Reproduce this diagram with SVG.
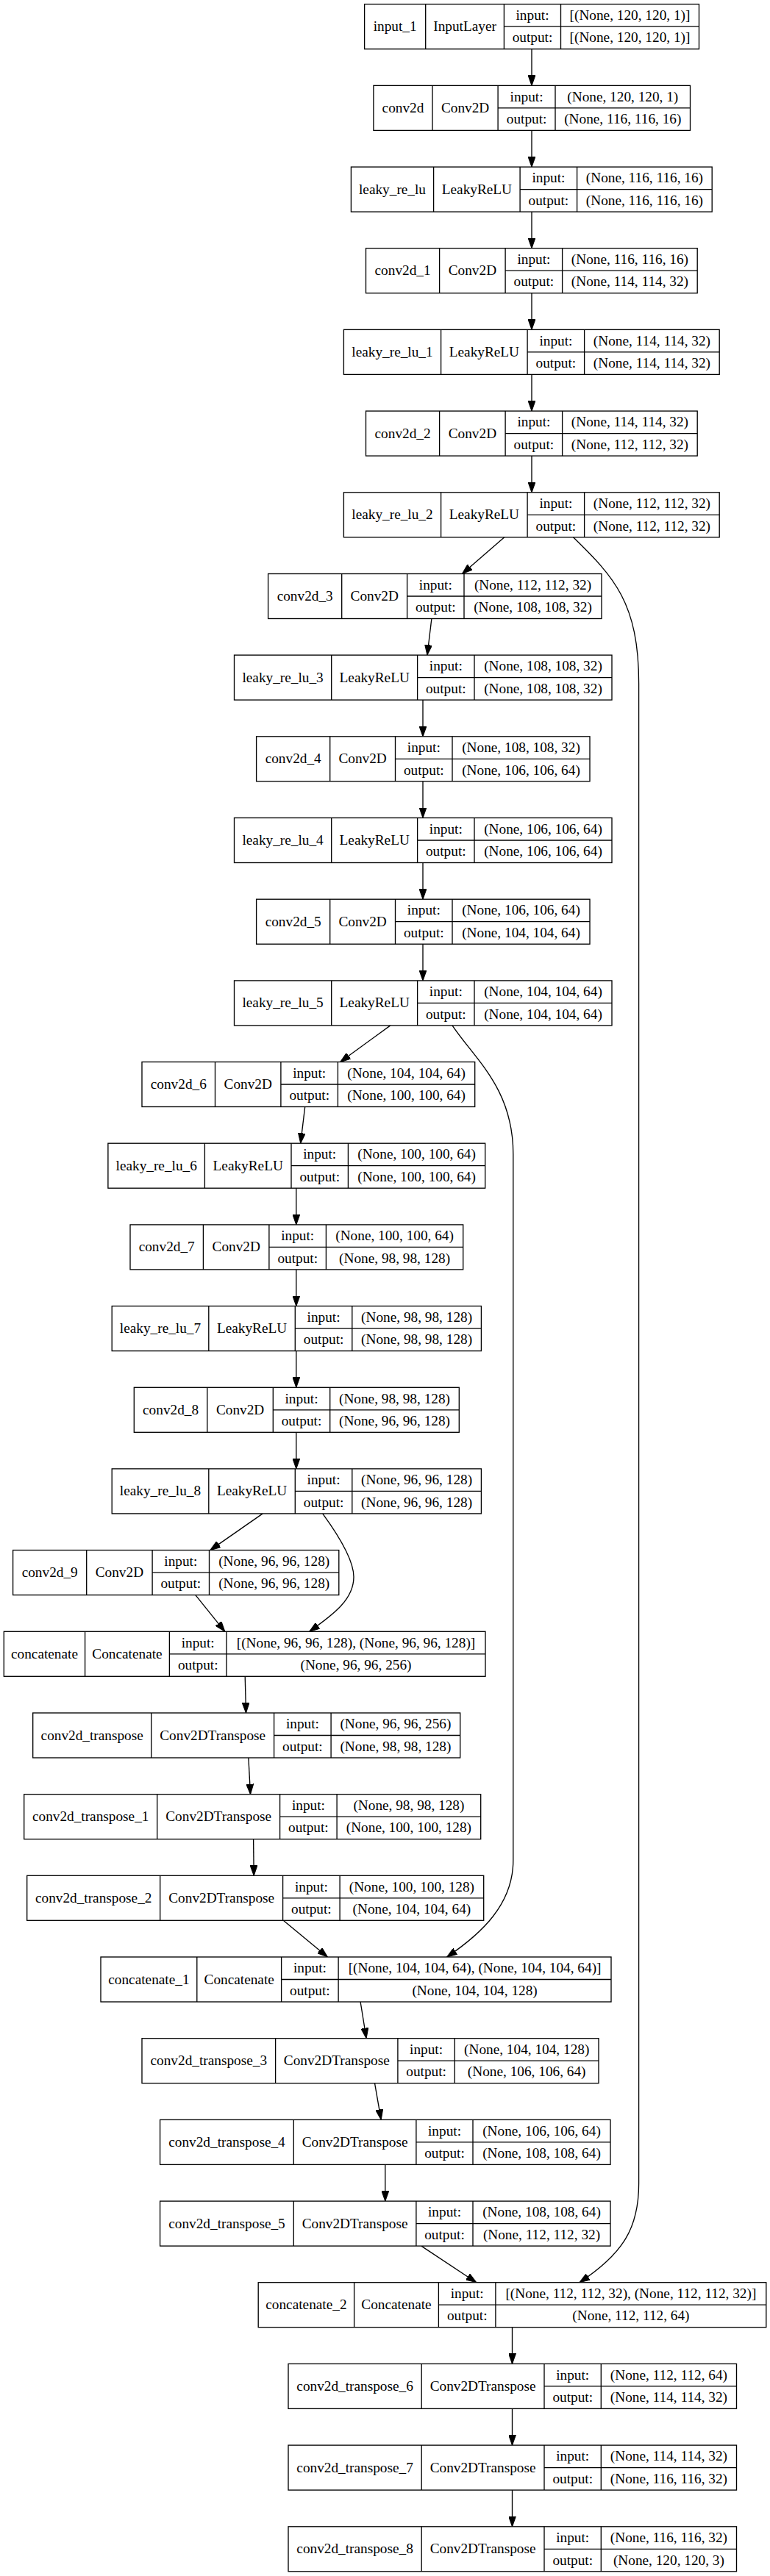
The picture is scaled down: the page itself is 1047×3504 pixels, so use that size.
<svg xmlns="http://www.w3.org/2000/svg" width="1047" height="3504" viewBox="0 0 1047 3504">
<style>
.bg{fill:#fff}
.n rect{fill:#fff;stroke:#000;stroke-width:1.33}
.n line{stroke:#000;stroke-width:1.33}
.n text{font-family:"Liberation Serif","Times New Roman",serif;font-size:19.3px;text-anchor:middle;fill:#000}
.e path{fill:none;stroke:#000;stroke-width:1.33;marker-end:url(#ah)}
</style>
<defs>
<marker id="ah" markerUnits="userSpaceOnUse" markerWidth="14" markerHeight="10" refX="13.3" refY="4.67" orient="auto" viewBox="0 0 13.3 9.34"><path d="M0,0 L13.3,4.67 L0,9.34 z" fill="#000" stroke="#000" stroke-width="1"/></marker>
</defs>
<rect class="bg" x="0" y="0" width="1047" height="3504"/>

<g class="e" id="connectors">
<path d="M723,66.7 L723,116.4"/>
<path d="M723,177.4 L723,227.1"/>
<path d="M723,288.1 L723,337.7"/>
<path d="M723,398.7 L723,448.4"/>
<path d="M723,509.4 L723,559.1"/>
<path d="M723,620.1 L723,669.8"/>
<path d="M685.8,730.8 L628.5,780.5"/>
<path d="M586.9,841.5 L580.9,891.1"/>
<path d="M575,952.1 L575,1001.8"/>
<path d="M575,1062.8 L575,1112.5"/>
<path d="M575,1173.5 L575,1223.2"/>
<path d="M575,1284.2 L575,1333.9"/>
<path d="M530.8,1394.9 L462.7,1444.5"/>
<path d="M414.7,1505.5 L408.7,1555.2"/>
<path d="M402.8,1616.2 L402.8,1665.9"/>
<path d="M402.8,1726.9 L402.8,1776.6"/>
<path d="M402.8,1837.6 L402.8,1887.3"/>
<path d="M402.8,1948.3 L402.8,1997.9"/>
<path d="M357.2,2058.9 L285.8,2108.6"/>
<path d="M265.8,2169.6 L305.8,2219.3"/>
<path d="M333.2,2280.3 L334.5,2330"/>
<path d="M337.9,2391 L340.5,2440.7"/>
<path d="M344.6,2501.7 L345.2,2551.3"/>
<path d="M385.3,2612.3 L445.4,2662"/>
<path d="M490.1,2723 L498.1,2772.7"/>
<path d="M509.5,2833.7 L518.2,2883.4"/>
<path d="M523.8,2944.4 L523.8,2994.1"/>
<path d="M572.9,3055.1 L647.7,3104.7"/>
<path d="M696.5,3165.7 L696.5,3215.4"/>
<path d="M696.5,3276.4 L696.5,3326.1"/>
<path d="M696.5,3387.1 L696.5,3436.8"/>
<path d="M779.5,730.8 C835,785 868.6,820 868.6,930 L868.6,2970 C868.6,3030 848,3065 788,3104.7"/>
<path d="M615,1394.9 C645,1440 697.8,1480 697.8,1570 L697.8,2530 C698,2590 655,2630 607.6,2662"/>
<path d="M438.7,2058.9 C465,2095 481,2125 481,2145 C481,2175 455,2195 420.7,2219.3"/>
</g>

<g class="n" id="input_1" transform="translate(0,5.7)">
<rect x="495.6" y="0" width="454.9" height="61"/>
<line x1="578.7" y1="0" x2="578.7" y2="61"/><line x1="685.4" y1="0" x2="685.4" y2="61"/><line x1="762.5" y1="0" x2="762.5" y2="61"/><line x1="685.4" y1="30.5" x2="950.5" y2="30.5"/>
<text x="537.2" y="36.5">input_1</text><text x="632.1" y="36.5">InputLayer</text><text x="724" y="21.3">input:</text><text x="724" y="51.8">output:</text><text x="856.5" y="21.3">[(None, 120, 120, 1)]</text><text x="856.5" y="51.8">[(None, 120, 120, 1)]</text>
</g>

<g class="n" id="conv2d" transform="translate(0,116.4)">
<rect x="507.9" y="0" width="430.6" height="61"/>
<line x1="588" y1="0" x2="588" y2="61"/><line x1="677.1" y1="0" x2="677.1" y2="61"/><line x1="755" y1="0" x2="755" y2="61"/><line x1="677.1" y1="30.5" x2="938.5" y2="30.5"/>
<text x="548" y="36.5">conv2d</text><text x="632.6" y="36.5">Conv2D</text><text x="716.1" y="21.3">input:</text><text x="716.1" y="51.8">output:</text><text x="846.8" y="21.3">(None, 120, 120, 1)</text><text x="846.8" y="51.8">(None, 116, 116, 16)</text>
</g>

<g class="n" id="leaky_re_lu" transform="translate(0,227.1)">
<rect x="477.4" y="0" width="490.8" height="61"/>
<line x1="589.6" y1="0" x2="589.6" y2="61"/><line x1="707.1" y1="0" x2="707.1" y2="61"/><line x1="784.6" y1="0" x2="784.6" y2="61"/><line x1="707.1" y1="30.5" x2="968.2" y2="30.5"/>
<text x="533.5" y="36.5">leaky_re_lu</text><text x="648.4" y="36.5">LeakyReLU</text><text x="745.9" y="21.3">input:</text><text x="745.9" y="51.8">output:</text><text x="876.4" y="21.3">(None, 116, 116, 16)</text><text x="876.4" y="51.8">(None, 116, 116, 16)</text>
</g>

<g class="n" id="conv2d_1" transform="translate(0,337.7)">
<rect x="497.5" y="0" width="450.7" height="61"/>
<line x1="597.6" y1="0" x2="597.6" y2="61"/><line x1="687.1" y1="0" x2="687.1" y2="61"/><line x1="764.6" y1="0" x2="764.6" y2="61"/><line x1="687.1" y1="30.5" x2="948.2" y2="30.5"/>
<text x="547.6" y="36.5">conv2d_1</text><text x="642.4" y="36.5">Conv2D</text><text x="725.9" y="21.3">input:</text><text x="725.9" y="51.8">output:</text><text x="856.4" y="21.3">(None, 116, 116, 16)</text><text x="856.4" y="51.8">(None, 114, 114, 32)</text>
</g>

<g class="n" id="leaky_re_lu_1" transform="translate(0,448.4)">
<rect x="467.4" y="0" width="510.8" height="61"/>
<line x1="599.6" y1="0" x2="599.6" y2="61"/><line x1="717.1" y1="0" x2="717.1" y2="61"/><line x1="794.6" y1="0" x2="794.6" y2="61"/><line x1="717.1" y1="30.5" x2="978.2" y2="30.5"/>
<text x="533.5" y="36.5">leaky_re_lu_1</text><text x="658.4" y="36.5">LeakyReLU</text><text x="755.9" y="21.3">input:</text><text x="755.9" y="51.8">output:</text><text x="886.4" y="21.3">(None, 114, 114, 32)</text><text x="886.4" y="51.8">(None, 114, 114, 32)</text>
</g>

<g class="n" id="conv2d_2" transform="translate(0,559.1)">
<rect x="497.5" y="0" width="450.7" height="61"/>
<line x1="597.6" y1="0" x2="597.6" y2="61"/><line x1="687.1" y1="0" x2="687.1" y2="61"/><line x1="764.6" y1="0" x2="764.6" y2="61"/><line x1="687.1" y1="30.5" x2="948.2" y2="30.5"/>
<text x="547.6" y="36.5">conv2d_2</text><text x="642.4" y="36.5">Conv2D</text><text x="725.9" y="21.3">input:</text><text x="725.9" y="51.8">output:</text><text x="856.4" y="21.3">(None, 114, 114, 32)</text><text x="856.4" y="51.8">(None, 112, 112, 32)</text>
</g>

<g class="n" id="leaky_re_lu_2" transform="translate(0,669.8)">
<rect x="467.4" y="0" width="510.8" height="61"/>
<line x1="599.6" y1="0" x2="599.6" y2="61"/><line x1="717.1" y1="0" x2="717.1" y2="61"/><line x1="794.6" y1="0" x2="794.6" y2="61"/><line x1="717.1" y1="30.5" x2="978.2" y2="30.5"/>
<text x="533.5" y="36.5">leaky_re_lu_2</text><text x="658.4" y="36.5">LeakyReLU</text><text x="755.9" y="21.3">input:</text><text x="755.9" y="51.8">output:</text><text x="886.4" y="21.3">(None, 112, 112, 32)</text><text x="886.4" y="51.8">(None, 112, 112, 32)</text>
</g>

<g class="n" id="conv2d_3" transform="translate(0,780.5)">
<rect x="364.6" y="0" width="453.4" height="61"/>
<line x1="464.7" y1="0" x2="464.7" y2="61"/><line x1="553.6" y1="0" x2="553.6" y2="61"/><line x1="631" y1="0" x2="631" y2="61"/><line x1="553.6" y1="30.5" x2="818" y2="30.5"/>
<text x="414.7" y="36.5">conv2d_3</text><text x="509.2" y="36.5">Conv2D</text><text x="592.3" y="21.3">input:</text><text x="592.3" y="51.8">output:</text><text x="724.5" y="21.3">(None, 112, 112, 32)</text><text x="724.5" y="51.8">(None, 108, 108, 32)</text>
</g>

<g class="n" id="leaky_re_lu_3" transform="translate(0,891.1)">
<rect x="318.5" y="0" width="513.5" height="61"/>
<line x1="450.7" y1="0" x2="450.7" y2="61"/><line x1="567.6" y1="0" x2="567.6" y2="61"/><line x1="645" y1="0" x2="645" y2="61"/><line x1="567.6" y1="30.5" x2="832" y2="30.5"/>
<text x="384.6" y="36.5">leaky_re_lu_3</text><text x="509.2" y="36.5">LeakyReLU</text><text x="606.3" y="21.3">input:</text><text x="606.3" y="51.8">output:</text><text x="738.5" y="21.3">(None, 108, 108, 32)</text><text x="738.5" y="51.8">(None, 108, 108, 32)</text>
</g>

<g class="n" id="conv2d_4" transform="translate(0,1001.8)">
<rect x="348.6" y="0" width="453.4" height="61"/>
<line x1="448.7" y1="0" x2="448.7" y2="61"/><line x1="537.5" y1="0" x2="537.5" y2="61"/><line x1="615" y1="0" x2="615" y2="61"/><line x1="537.5" y1="30.5" x2="802" y2="30.5"/>
<text x="398.7" y="36.5">conv2d_4</text><text x="493.1" y="36.5">Conv2D</text><text x="576.3" y="21.3">input:</text><text x="576.3" y="51.8">output:</text><text x="708.5" y="21.3">(None, 108, 108, 32)</text><text x="708.5" y="51.8">(None, 106, 106, 64)</text>
</g>

<g class="n" id="leaky_re_lu_4" transform="translate(0,1112.5)">
<rect x="318.5" y="0" width="513.5" height="61"/>
<line x1="450.7" y1="0" x2="450.7" y2="61"/><line x1="567.6" y1="0" x2="567.6" y2="61"/><line x1="645" y1="0" x2="645" y2="61"/><line x1="567.6" y1="30.5" x2="832" y2="30.5"/>
<text x="384.6" y="36.5">leaky_re_lu_4</text><text x="509.2" y="36.5">LeakyReLU</text><text x="606.3" y="21.3">input:</text><text x="606.3" y="51.8">output:</text><text x="738.5" y="21.3">(None, 106, 106, 64)</text><text x="738.5" y="51.8">(None, 106, 106, 64)</text>
</g>

<g class="n" id="conv2d_5" transform="translate(0,1223.2)">
<rect x="348.6" y="0" width="453.4" height="61"/>
<line x1="448.7" y1="0" x2="448.7" y2="61"/><line x1="537.5" y1="0" x2="537.5" y2="61"/><line x1="615" y1="0" x2="615" y2="61"/><line x1="537.5" y1="30.5" x2="802" y2="30.5"/>
<text x="398.7" y="36.5">conv2d_5</text><text x="493.1" y="36.5">Conv2D</text><text x="576.3" y="21.3">input:</text><text x="576.3" y="51.8">output:</text><text x="708.5" y="21.3">(None, 106, 106, 64)</text><text x="708.5" y="51.8">(None, 104, 104, 64)</text>
</g>

<g class="n" id="leaky_re_lu_5" transform="translate(0,1333.9)">
<rect x="318.5" y="0" width="513.5" height="61"/>
<line x1="450.7" y1="0" x2="450.7" y2="61"/><line x1="567.6" y1="0" x2="567.6" y2="61"/><line x1="645" y1="0" x2="645" y2="61"/><line x1="567.6" y1="30.5" x2="832" y2="30.5"/>
<text x="384.6" y="36.5">leaky_re_lu_5</text><text x="509.2" y="36.5">LeakyReLU</text><text x="606.3" y="21.3">input:</text><text x="606.3" y="51.8">output:</text><text x="738.5" y="21.3">(None, 104, 104, 64)</text><text x="738.5" y="51.8">(None, 104, 104, 64)</text>
</g>

<g class="n" id="conv2d_6" transform="translate(0,1444.5)">
<rect x="193" y="0" width="452.7" height="61"/>
<line x1="292.5" y1="0" x2="292.5" y2="61"/><line x1="381.9" y1="0" x2="381.9" y2="61"/><line x1="459.4" y1="0" x2="459.4" y2="61"/><line x1="381.9" y1="30.5" x2="645.7" y2="30.5"/>
<text x="242.8" y="36.5">conv2d_6</text><text x="337.2" y="36.5">Conv2D</text><text x="420.7" y="21.3">input:</text><text x="420.7" y="51.8">output:</text><text x="552.6" y="21.3">(None, 104, 104, 64)</text><text x="552.6" y="51.8">(None, 100, 100, 64)</text>
</g>

<g class="n" id="leaky_re_lu_6" transform="translate(0,1555.2)">
<rect x="146.9" y="0" width="512.8" height="61"/>
<line x1="278.4" y1="0" x2="278.4" y2="61"/><line x1="396" y1="0" x2="396" y2="61"/><line x1="473.4" y1="0" x2="473.4" y2="61"/><line x1="396" y1="30.5" x2="659.7" y2="30.5"/>
<text x="212.7" y="36.5">leaky_re_lu_6</text><text x="337.2" y="36.5">LeakyReLU</text><text x="434.7" y="21.3">input:</text><text x="434.7" y="51.8">output:</text><text x="566.6" y="21.3">(None, 100, 100, 64)</text><text x="566.6" y="51.8">(None, 100, 100, 64)</text>
</g>

<g class="n" id="conv2d_7" transform="translate(0,1665.9)">
<rect x="177" y="0" width="452.7" height="61"/>
<line x1="276.4" y1="0" x2="276.4" y2="61"/><line x1="365.9" y1="0" x2="365.9" y2="61"/><line x1="443.4" y1="0" x2="443.4" y2="61"/><line x1="365.9" y1="30.5" x2="629.7" y2="30.5"/>
<text x="226.7" y="36.5">conv2d_7</text><text x="321.2" y="36.5">Conv2D</text><text x="404.7" y="21.3">input:</text><text x="404.7" y="51.8">output:</text><text x="536.6" y="21.3">(None, 100, 100, 64)</text><text x="536.6" y="51.8">(None, 98, 98, 128)</text>
</g>

<g class="n" id="leaky_re_lu_7" transform="translate(0,1776.6)">
<rect x="152.2" y="0" width="502.2" height="61"/>
<line x1="283.8" y1="0" x2="283.8" y2="61"/><line x1="401.3" y1="0" x2="401.3" y2="61"/><line x1="478.8" y1="0" x2="478.8" y2="61"/><line x1="401.3" y1="30.5" x2="654.4" y2="30.5"/>
<text x="218" y="36.5">leaky_re_lu_7</text><text x="342.6" y="36.5">LeakyReLU</text><text x="440.1" y="21.3">input:</text><text x="440.1" y="51.8">output:</text><text x="566.6" y="21.3">(None, 98, 98, 128)</text><text x="566.6" y="51.8">(None, 98, 98, 128)</text>
</g>

<g class="n" id="conv2d_8" transform="translate(0,1887.3)">
<rect x="182.3" y="0" width="442" height="61"/>
<line x1="281.8" y1="0" x2="281.8" y2="61"/><line x1="371.3" y1="0" x2="371.3" y2="61"/><line x1="448.7" y1="0" x2="448.7" y2="61"/><line x1="371.3" y1="30.5" x2="624.3" y2="30.5"/>
<text x="232.1" y="36.5">conv2d_8</text><text x="326.6" y="36.5">Conv2D</text><text x="410" y="21.3">input:</text><text x="410" y="51.8">output:</text><text x="536.5" y="21.3">(None, 98, 98, 128)</text><text x="536.5" y="51.8">(None, 96, 96, 128)</text>
</g>

<g class="n" id="leaky_re_lu_8" transform="translate(0,1997.9)">
<rect x="152.2" y="0" width="502.2" height="61"/>
<line x1="283.8" y1="0" x2="283.8" y2="61"/><line x1="401.3" y1="0" x2="401.3" y2="61"/><line x1="478.8" y1="0" x2="478.8" y2="61"/><line x1="401.3" y1="30.5" x2="654.4" y2="30.5"/>
<text x="218" y="36.5">leaky_re_lu_8</text><text x="342.6" y="36.5">LeakyReLU</text><text x="440.1" y="21.3">input:</text><text x="440.1" y="51.8">output:</text><text x="566.6" y="21.3">(None, 96, 96, 128)</text><text x="566.6" y="51.8">(None, 96, 96, 128)</text>
</g>

<g class="n" id="conv2d_9" transform="translate(0,2108.6)">
<rect x="17.6" y="0" width="443.2" height="61"/>
<line x1="117.7" y1="0" x2="117.7" y2="61"/><line x1="207.1" y1="0" x2="207.1" y2="61"/><line x1="284.5" y1="0" x2="284.5" y2="61"/><line x1="207.1" y1="30.5" x2="460.8" y2="30.5"/>
<text x="67.7" y="36.5">conv2d_9</text><text x="162.4" y="36.5">Conv2D</text><text x="245.8" y="21.3">input:</text><text x="245.8" y="51.8">output:</text><text x="372.7" y="21.3">(None, 96, 96, 128)</text><text x="372.7" y="51.8">(None, 96, 96, 128)</text>
</g>

<g class="n" id="concatenate" transform="translate(0,2219.3)">
<rect x="5.3" y="0" width="654.7" height="61"/>
<line x1="115.6" y1="0" x2="115.6" y2="61"/><line x1="230.4" y1="0" x2="230.4" y2="61"/><line x1="308" y1="0" x2="308" y2="61"/><line x1="230.4" y1="30.5" x2="660" y2="30.5"/>
<text x="60.5" y="36.5">concatenate</text><text x="173" y="36.5">Concatenate</text><text x="269.2" y="21.3">input:</text><text x="269.2" y="51.8">output:</text><text x="484" y="21.3">[(None, 96, 96, 128), (None, 96, 96, 128)]</text><text x="484" y="51.8">(None, 96, 96, 256)</text>
</g>

<g class="n" id="conv2d_transpose" transform="translate(0,2330)">
<rect x="44.7" y="0" width="581" height="61"/>
<line x1="205.7" y1="0" x2="205.7" y2="61"/><line x1="372.6" y1="0" x2="372.6" y2="61"/><line x1="450.1" y1="0" x2="450.1" y2="61"/><line x1="372.6" y1="30.5" x2="625.7" y2="30.5"/>
<text x="125.2" y="36.5">conv2d_transpose</text><text x="289.2" y="36.5">Conv2DTranspose</text><text x="411.4" y="21.3">input:</text><text x="411.4" y="51.8">output:</text><text x="537.9" y="21.3">(None, 96, 96, 256)</text><text x="537.9" y="51.8">(None, 98, 98, 128)</text>
</g>

<g class="n" id="conv2d_transpose_1" transform="translate(0,2440.7)">
<rect x="32.7" y="0" width="621" height="61"/>
<line x1="213.7" y1="0" x2="213.7" y2="61"/><line x1="380.6" y1="0" x2="380.6" y2="61"/><line x1="458.1" y1="0" x2="458.1" y2="61"/><line x1="380.6" y1="30.5" x2="653.7" y2="30.5"/>
<text x="123.2" y="36.5">conv2d_transpose_1</text><text x="297.2" y="36.5">Conv2DTranspose</text><text x="419.4" y="21.3">input:</text><text x="419.4" y="51.8">output:</text><text x="555.9" y="21.3">(None, 98, 98, 128)</text><text x="555.9" y="51.8">(None, 100, 100, 128)</text>
</g>

<g class="n" id="conv2d_transpose_2" transform="translate(0,2551.3)">
<rect x="36.7" y="0" width="621" height="61"/>
<line x1="217.7" y1="0" x2="217.7" y2="61"/><line x1="384.6" y1="0" x2="384.6" y2="61"/><line x1="462.1" y1="0" x2="462.1" y2="61"/><line x1="384.6" y1="30.5" x2="657.7" y2="30.5"/>
<text x="127.2" y="36.5">conv2d_transpose_2</text><text x="301.2" y="36.5">Conv2DTranspose</text><text x="423.4" y="21.3">input:</text><text x="423.4" y="51.8">output:</text><text x="559.9" y="21.3">(None, 100, 100, 128)</text><text x="559.9" y="51.8">(None, 104, 104, 64)</text>
</g>

<g class="n" id="concatenate_1" transform="translate(0,2662)">
<rect x="137" y="0" width="694" height="61"/>
<line x1="267.8" y1="0" x2="267.8" y2="61"/><line x1="382.6" y1="0" x2="382.6" y2="61"/><line x1="460.1" y1="0" x2="460.1" y2="61"/><line x1="382.6" y1="30.5" x2="831" y2="30.5"/>
<text x="202.4" y="36.5">concatenate_1</text><text x="325.2" y="36.5">Concatenate</text><text x="421.4" y="21.3">input:</text><text x="421.4" y="51.8">output:</text><text x="645.6" y="21.3">[(None, 104, 104, 64), (None, 104, 104, 64)]</text><text x="645.6" y="51.8">(None, 104, 104, 128)</text>
</g>

<g class="n" id="conv2d_transpose_3" transform="translate(0,2772.7)">
<rect x="193" y="0" width="621" height="61"/>
<line x1="374.6" y1="0" x2="374.6" y2="61"/><line x1="540.9" y1="0" x2="540.9" y2="61"/><line x1="618.3" y1="0" x2="618.3" y2="61"/><line x1="540.9" y1="30.5" x2="814" y2="30.5"/>
<text x="283.8" y="36.5">conv2d_transpose_3</text><text x="457.8" y="36.5">Conv2DTranspose</text><text x="579.6" y="21.3">input:</text><text x="579.6" y="51.8">output:</text><text x="716.2" y="21.3">(None, 104, 104, 128)</text><text x="716.2" y="51.8">(None, 106, 106, 64)</text>
</g>

<g class="n" id="conv2d_transpose_4" transform="translate(0,2883.4)">
<rect x="217.6" y="0" width="612.4" height="61"/>
<line x1="399.3" y1="0" x2="399.3" y2="61"/><line x1="565.9" y1="0" x2="565.9" y2="61"/><line x1="643" y1="0" x2="643" y2="61"/><line x1="565.9" y1="30.5" x2="830" y2="30.5"/>
<text x="308.5" y="36.5">conv2d_transpose_4</text><text x="482.6" y="36.5">Conv2DTranspose</text><text x="604.5" y="21.3">input:</text><text x="604.5" y="51.8">output:</text><text x="736.5" y="21.3">(None, 106, 106, 64)</text><text x="736.5" y="51.8">(None, 108, 108, 64)</text>
</g>

<g class="n" id="conv2d_transpose_5" transform="translate(0,2994.1)">
<rect x="217.6" y="0" width="612.4" height="61"/>
<line x1="399.3" y1="0" x2="399.3" y2="61"/><line x1="565.9" y1="0" x2="565.9" y2="61"/><line x1="643" y1="0" x2="643" y2="61"/><line x1="565.9" y1="30.5" x2="830" y2="30.5"/>
<text x="308.5" y="36.5">conv2d_transpose_5</text><text x="482.6" y="36.5">Conv2DTranspose</text><text x="604.5" y="21.3">input:</text><text x="604.5" y="51.8">output:</text><text x="736.5" y="21.3">(None, 108, 108, 64)</text><text x="736.5" y="51.8">(None, 112, 112, 32)</text>
</g>

<g class="n" id="concatenate_2" transform="translate(0,3104.7)">
<rect x="351.2" y="0" width="690.6" height="61"/>
<line x1="481.6" y1="0" x2="481.6" y2="61"/><line x1="596.4" y1="0" x2="596.4" y2="61"/><line x1="673.9" y1="0" x2="673.9" y2="61"/><line x1="596.4" y1="30.5" x2="1041.8" y2="30.5"/>
<text x="416.4" y="36.5">concatenate_2</text><text x="539" y="36.5">Concatenate</text><text x="635.2" y="21.3">input:</text><text x="635.2" y="51.8">output:</text><text x="857.9" y="21.3">[(None, 112, 112, 32), (None, 112, 112, 32)]</text><text x="857.9" y="51.8">(None, 112, 112, 64)</text>
</g>

<g class="n" id="conv2d_transpose_6" transform="translate(0,3215.4)">
<rect x="392" y="0" width="609.5" height="61"/>
<line x1="573.2" y1="0" x2="573.2" y2="61"/><line x1="740" y1="0" x2="740" y2="61"/><line x1="817.3" y1="0" x2="817.3" y2="61"/><line x1="740" y1="30.5" x2="1001.5" y2="30.5"/>
<text x="482.6" y="36.5">conv2d_transpose_6</text><text x="656.6" y="36.5">Conv2DTranspose</text><text x="778.7" y="21.3">input:</text><text x="778.7" y="51.8">output:</text><text x="909.4" y="21.3">(None, 112, 112, 64)</text><text x="909.4" y="51.8">(None, 114, 114, 32)</text>
</g>

<g class="n" id="conv2d_transpose_7" transform="translate(0,3326.1)">
<rect x="392" y="0" width="609.5" height="61"/>
<line x1="573.2" y1="0" x2="573.2" y2="61"/><line x1="740" y1="0" x2="740" y2="61"/><line x1="817.3" y1="0" x2="817.3" y2="61"/><line x1="740" y1="30.5" x2="1001.5" y2="30.5"/>
<text x="482.6" y="36.5">conv2d_transpose_7</text><text x="656.6" y="36.5">Conv2DTranspose</text><text x="778.7" y="21.3">input:</text><text x="778.7" y="51.8">output:</text><text x="909.4" y="21.3">(None, 114, 114, 32)</text><text x="909.4" y="51.8">(None, 116, 116, 32)</text>
</g>

<g class="n" id="conv2d_transpose_8" transform="translate(0,3436.8)">
<rect x="392" y="0" width="609.5" height="61"/>
<line x1="573.2" y1="0" x2="573.2" y2="61"/><line x1="740" y1="0" x2="740" y2="61"/><line x1="817.3" y1="0" x2="817.3" y2="61"/><line x1="740" y1="30.5" x2="1001.5" y2="30.5"/>
<text x="482.6" y="36.5">conv2d_transpose_8</text><text x="656.6" y="36.5">Conv2DTranspose</text><text x="778.7" y="21.3">input:</text><text x="778.7" y="51.8">output:</text><text x="909.4" y="21.3">(None, 116, 116, 32)</text><text x="909.4" y="51.8">(None, 120, 120, 3)</text>
</g>
</svg>
